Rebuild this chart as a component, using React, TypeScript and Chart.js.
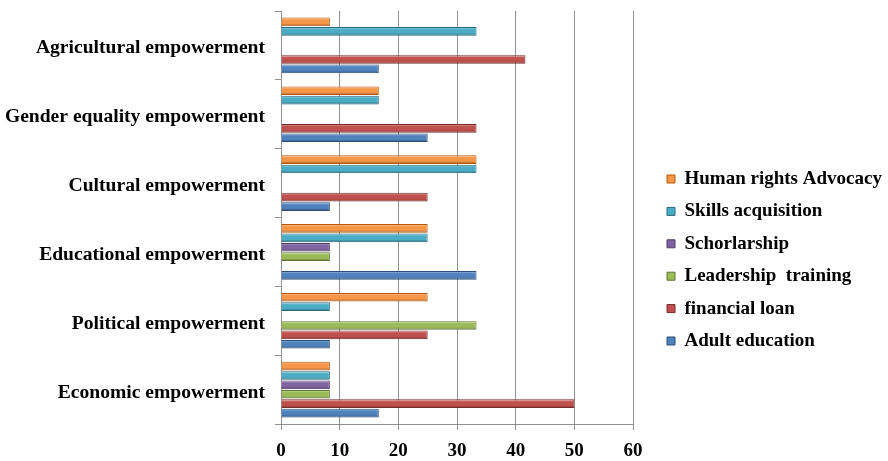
import React, { useEffect, useRef } from 'react';
import { Chart, registerables } from 'chart.js';

Chart.register(...registerables);

const categories = [
  'Economic empowerment',
  'Political empowerment',
  'Educational empowerment',
  'Cultural empowerment',
  'Gender equality empowerment',
  'Agricultural empowerment',
];

// legend order (top to bottom), which is also the order of bars within a group (top to bottom)
const seriesNames = [
  'Human rights Advocacy',
  'Skills acquisition',
  'Schorlarship',
  'Leadership  training',
  'financial loan',
  'Adult education',
];

const humanRightsAdvocacy = [8.33, 25, 25, 33.33, 16.67, 8.33];
const skillsAcquisition = [8.33, 8.33, 25, 33.33, 16.67, 33.33];
const scholarship = [8.33, 0, 8.33, 0, 0, 0];
const leadershipTraining = [8.33, 33.33, 8.33, 0, 0, 0];
const financialLoan = [50, 25, 0, 25, 33.33, 41.67];
const adultEducation = [16.67, 8.33, 33.33, 8.33, 25, 16.67];

const xMin = 0;
const xMax = 60;
const xStep = 10;

const seriesValues = [
  humanRightsAdvocacy,
  skillsAcquisition,
  scholarship,
  leadershipTraining,
  financialLoan,
  adultEducation,
];

const fillColors = ['#f79646', '#4bacc6', '#8064a2', '#9bbb59', '#c0504d', '#4f81bd'];
const edgeColors = ['#b65708', '#276a7c', '#4d3b62', '#5f7530', '#772c2a', '#2c4d75'];

const FONT = "'Liberation Serif', 'Times New Roman', serif";

function mix(hex: string, target: number, t: number) {
  const n = parseInt(hex.slice(1), 16);
  const r = (n >> 16) & 255, g = (n >> 8) & 255, b = n & 255;
  const f = (c: number) => Math.round(c + (target - c) * t);
  return `rgb(${f(r)},${f(g)},${f(b)})`;
}

export default function App() {
  const ref = useRef<HTMLCanvasElement>(null);

  useEffect(() => {
    if (!ref.current) return;

    const legendPlace = {
      id: 'legendPlace',
      beforeLayout(chart: any) {
        const lg = chart.legend;
        if (lg && !lg.__patched) {
          const orig = lg.fit.bind(lg);
          lg.fit = function () {
            orig();
            this.width = 255;
          };
          lg.__patched = true;
        }
      },
      afterLayout(chart: any) {
        const lg = chart.legend;
        if (!lg) return;
        const pad = lg.options.labels.padding;
        lg.left = 667 - pad;
        lg.right = lg.left + 255;
        lg.top += 24;
        lg.bottom += 24;
      },
    };

    const bevel = {
      id: 'bevel',
      beforeDatasetsDraw(chart: any) {
        const ctx = chart.ctx;
        chart.data.datasets.forEach((ds: any, di: number) => {
          const meta = chart.getDatasetMeta(di);
          meta.data.forEach((el: any) => {
            const h = el.height;
            if (!h || !el.options) return;
            const top = el.y - h / 2;
            const g = ctx.createLinearGradient(0, top, 0, top + h);
            const base = fillColors[di];
            g.addColorStop(0, mix(base, 255, 0.5));
            g.addColorStop(0.3, base);
            g.addColorStop(0.7, base);
            g.addColorStop(1, mix(base, 0, 0.4));
            el.options.backgroundColor = g;
          });
        });
      },
    };

    const chart = new Chart(ref.current, {
      type: 'bar',
      data: {
        labels: categories,
        datasets: seriesValues.map((vals, i) => ({
          label: seriesNames[i],
          data: vals,
          backgroundColor: () => fillColors[i],
          borderColor: edgeColors[i],
          borderWidth: 1,
          borderSkipped: 'start' as const,
          categoryPercentage: 0.82,
          barPercentage: 0.92,
        })),
      },
      options: {
        indexAxis: 'y',
        animation: false,
        responsive: false,
        maintainAspectRatio: false,
        layout: { padding: { top: 11, right: 0, bottom: 0, left: 0 } },
        plugins: {
          tooltip: { enabled: false },
          legend: {
            position: 'right',
            labels: {
              boxWidth: 8,
              boxHeight: 8,
              padding: 13.4,
              color: '#000',
              font: { family: FONT, size: 19, weight: 'bold' },
            },
          },
        },
        scales: {
          x: {
            min: xMin,
            max: xMax,
            afterFit: (scale: any) => {
              scale.height = 37;
            },
            ticks: {
              stepSize: xStep,
              color: '#000',
              padding: 10,
              font: { family: FONT, size: 19, weight: 'bold' },
            },
            grid: {
              color: '#929292',
              lineWidth: 1,
              tickLength: 6,
              drawTicks: true,
            },
            border: { color: '#929292', width: 1 },
          },
          y: {
            reverse: true,
            afterFit: (scale: any) => {
              scale.width = 281;
              scale.paddingTop = 0;
              scale.paddingBottom = 0;
            },
            ticks: {
              color: '#000',
              padding: 10,
              labelOffset: 3,
              font: { family: FONT, size: 19.6, weight: 'bold' },
            },
            grid: {
              drawOnChartArea: false,
              color: '#929292',
              tickLength: 6,
              offset: true,
            },
            border: { color: '#929292', width: 1 },
          },
        },
      },
      plugins: [legendPlace, bevel],
    });
    return () => chart.destroy();
  }, []);

  return (
    <div style={{ position: 'fixed', left: 0, top: 0, width: 888, height: 461, background: '#fff' }}>
      <canvas ref={ref} width={888} height={461} />
    </div>
  );
}
